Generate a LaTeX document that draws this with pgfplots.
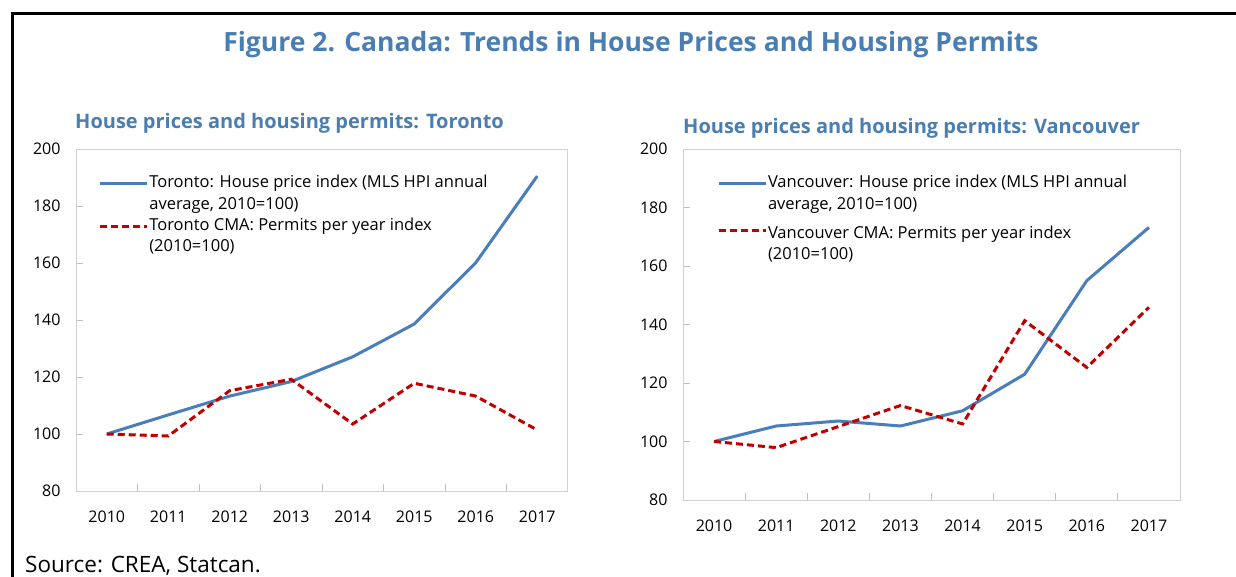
\documentclass[border=0pt]{standalone}
\usepackage{fontspec}
\setmainfont{Open Sans}
\usepackage{pgfplots}
\pgfplotsset{compat=1.18}
\definecolor{ttl}{HTML}{4A7DB1}
\definecolor{lblue}{HTML}{4A7EBB}
\definecolor{dred}{HTML}{C00000}
\definecolor{boxgray}{HTML}{D0D0D0}
\definecolor{tickgray}{HTML}{BFBFBF}

\pgfplotsset{
  panel/.style={
    scale only axis, anchor=south west,
    xmin=-0.5, xmax=7.5, ymin=80, ymax=200,
    xtick={0,...,7}, xticklabels={2010,2011,2012,2013,2014,2015,2016,2017},
    ytick={80,100,...,200},
    minor xtick={0.5,1.5,...,6.5}, minor ytick={100,120,...,180},
    tick align=inside, xtick pos=bottom, ytick pos=left,
    major tick length=0pt, minor tick length=7pt,
    axis line style={draw=boxgray, line width=1pt},
    minor tick style={draw=tickgray, line width=0.8pt},
    tick label style={font=\fontsize{16}{19}\selectfont, text=black},
    xticklabel style={yshift=-16pt},
    yticklabel style={xshift=-12pt},
    /pgf/number format/assume math mode=true,
    legend style={draw=none, fill=none, anchor=north west,
      font=\fontsize{16.5}{19}\selectfont, inner sep=0pt,
      nodes={inner sep=1pt, text height=12pt, text depth=4pt}, row sep=3.3pt},
    legend cell align=left,
    legend image code/.code={\draw[#1] (0pt,0pt) -- (47pt,0pt);},
  },
  hpi/.style={color=lblue, line width=3pt},
  prm/.style={color=dred, line width=3pt, dash pattern=on 7pt off 4pt},
}

\begin{document}
\begin{tikzpicture}
\path[use as bounding box] (0,0) rectangle (1236pt,-577pt);
\draw[black, line width=3pt] (12pt,-580pt) -- (12pt,-14pt) -- (1240pt,-14pt);

\node[font=\fontsize{26.5}{30}\selectfont\bfseries, text=ttl, anchor=base] at (631pt,-52pt)
  {Figure 2. Canada: Trends in House Prices and Housing Permits};
\node[font=\fontsize{20}{24}\selectfont\bfseries, text=ttl, anchor=base west, inner sep=0pt] at (75pt,-129pt)
  {House prices and housing permits: Toronto};
\node[font=\fontsize{20}{24}\selectfont\bfseries, text=ttl, anchor=base west, inner sep=0pt] at (683pt,-134pt)
  {House prices and housing permits: Vancouver};
\node[font=\fontsize{22.5}{26}\selectfont, anchor=base west, inner sep=0pt] at (25pt,-572pt)
  {Source: CREA, Statcan.};

\begin{axis}[panel, at={(76pt,-491pt)}, width=492pt, height=342pt,
  legend style={at={(0.045,0.925)}}]
\addplot[hpi] coordinates {(0,100) (1,106.7) (2,113.3) (3,118.4) (4,127.1) (5,138.6) (6,160.1) (7,190.5)};
\addlegendentry{Toronto: House price index (MLS HPI annual}
\addlegendimage{empty legend}
\addlegendentry{average, 2010=100)}
\addplot[prm] coordinates {(0,100) (1,99.3) (2,115.2) (3,119.2) (4,103.5) (5,117.8) (6,113.3) (7,101.4)};
\addlegendentry{Toronto CMA: Permits per year index}
\addlegendimage{empty legend}
\addlegendentry{(2010=100)}
\end{axis}

\begin{axis}[panel, at={(683pt,-500pt)}, width=497pt, height=351pt,
  legend style={at={(0.068,0.927)}}]
\addplot[hpi] coordinates {(0,100) (1,105.3) (2,107) (3,105.3) (4,110.5) (5,123) (6,155) (7,173.2)};
\addlegendentry{Vancouver: House price index (MLS HPI annual}
\addlegendimage{empty legend}
\addlegendentry{average, 2010=100)}
\addplot[prm] coordinates {(0,100) (1,97.9) (2,105.1) (3,112.3) (4,106) (5,141.3) (6,125.3) (7,145.9)};
\addlegendentry[text height=20pt]{Vancouver CMA: Permits per year index}
\addlegendimage{empty legend}
\addlegendentry{(2010=100)}
\end{axis}
\end{tikzpicture}
\end{document}
